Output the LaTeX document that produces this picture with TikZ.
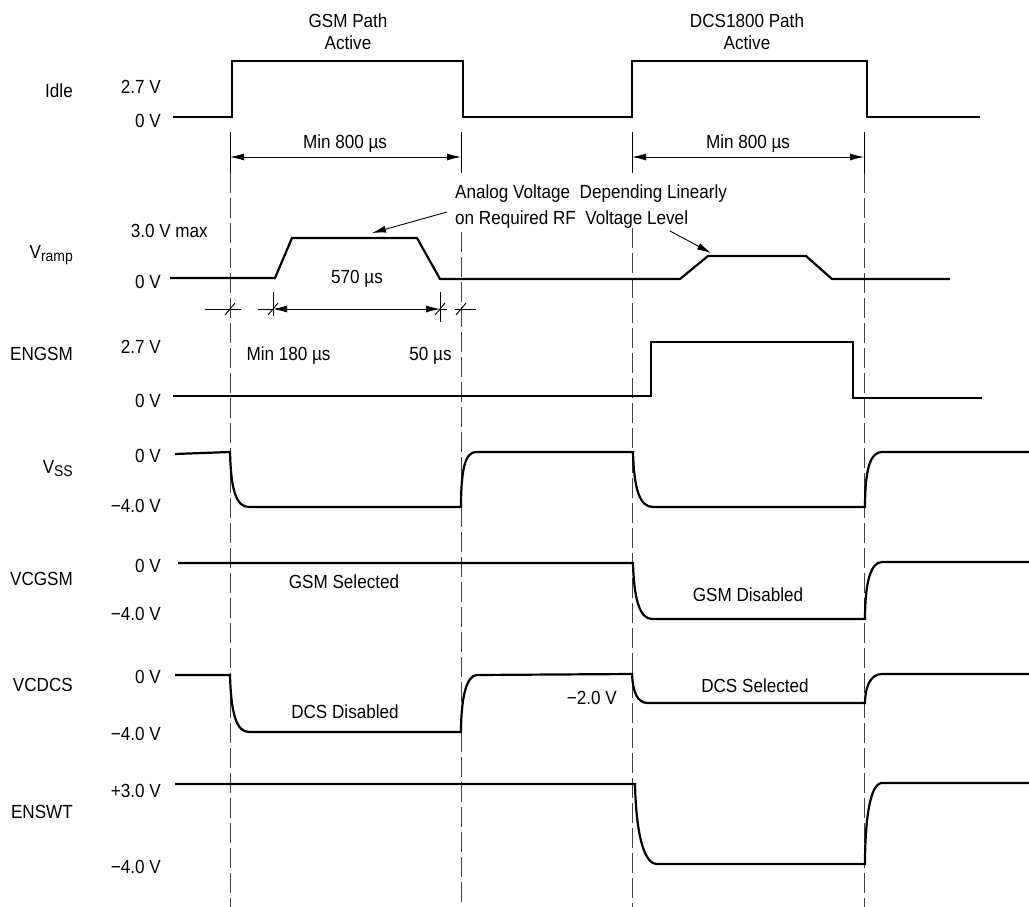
\documentclass[tikz,border=0pt]{standalone}
\usepackage{fontspec}
\setmainfont{Liberation Sans}[FakeStretch=0.9]
\usetikzlibrary{arrows.meta}
\newcommand{\subtxt}[1]{\raisebox{-0.35ex}{\fontsize{15.5}{16}\selectfont #1}}
\begin{document}
\begin{tikzpicture}[x=1pt,y=-1pt,
  sig/.style={line width=2.2pt, line join=miter},
  guide/.style={line width=0.9pt, black!75, dash pattern=on 20pt off 5pt},
  dimline/.style={line width=0.9pt},
  dimarrow/.style={line width=0.9pt, {Latex[length=14pt,width=7pt]}-{Latex[length=14pt,width=7pt]}},
  callout/.style={line width=0.9pt, -{Latex[length=14pt,width=7pt]}},
  txt/.style={font=\fontsize{19}{22}\selectfont, inner sep=0pt, anchor=base},
  lbl/.style={txt, anchor=base east},
]
\useasboundingbox[fill=white] (0,0) rectangle (1029,907);

% ---------- guide lines ----------
\foreach \gx/\gs in {230/173, 461/232, 632/228, 864/173}{
  \draw[dimline] (\gx,132) -- (\gx,173);
  \draw[guide] (\gx,\gs) -- (\gx,907);
}

% ---------- titles ----------
\node[txt] (t1a) at (348,28) {GSM Path};
\node[txt] (t1b) at (348,50) {Active};
\node[txt] (t2a) at (747,28) {DCS1800 Path};
\node[txt] (t2b) at (747,50) {Active};

% ---------- Idle ----------
\node[lbl] (lIdle) at (73,98) {Idle};
\node[lbl] (vIdleH) at (161,93) {2.7 V};
\node[lbl] (vIdleL) at (161,128) {0 V};
\draw[sig] (173,117) -- (232,117) -- (232,61) -- (463,61) -- (463,117)
  -- (632,117) -- (632,61) -- (867,61) -- (867,117) -- (980,117);

\coordinate (a1) at (230,157); \coordinate (a2) at (461,157);
\coordinate (a3) at (632,157); \coordinate (a4) at (864,157);
\draw[dimarrow] (a1) -- (a2);
\draw[dimarrow] (a3) -- (a4);
\node[txt] (m1) at (345,148) {Min 800 µs};
\node[txt] (m2) at (748,148) {Min 800 µs};

% ---------- Vramp ----------
\node[lbl] (lRamp) at (73,258) {V\subtxt{ramp}};
\node[lbl] (vRampH) at (208,237) {3.0 V max};
\node[lbl] (vRampL) at (161,288) {0 V};
\draw[sig] (170,278) -- (275,278) -- (292,238) -- (417,238) -- (440,279)
  -- (680,279) -- (708,256) -- (806,256) -- (832,279) -- (950,279);

\node[txt, anchor=base west] (an1) at (455,198.5) {Analog Voltage\ \ Depending Linearly};
\node[txt, anchor=base west] (an2) at (455,224.5) {on Required RF\ \ Voltage Level};
\coordinate (c1s) at (447,212); \coordinate (c1e) at (372,233);
\coordinate (c2s) at (670,231); \coordinate (c2e) at (711,253);
\draw[callout] (c1s) -- (c1e);
\draw[callout] (c2s) -- (c2e);

% 570 us dimension
\coordinate (d1) at (273,309); \coordinate (d2) at (440,309);
\draw[dimline] (273,292) -- (273,316);
\draw[dimline] (440,292) -- (440,322);
\draw[dimarrow] (d1) -- (d2);
\draw[dimline] (258,309) -- (273,309);
\draw[dimline] (440,309) -- (447,309);
\draw[dimline] (205,309) -- (241,309);
\draw[dimline] (455,309) -- (476,309);
\foreach \tx in {230,273,440,461}{
  \draw[dimline] (\tx-5,315) -- (\tx+5,303);
}
\node[txt] (t570) at (357,283) {570 µs};
\node[txt] (t180) at (288.5,360) {Min 180 µs};
\node[txt] (t50) at (430.5,360) {50 µs};

% ---------- ENGSM ----------
\node[lbl] (lEng) at (73,360) {ENGSM};
\node[lbl] (vEngH) at (161,353) {2.7 V};
\node[lbl] (vEngL) at (161,407) {0 V};
\draw[sig] (173,396) -- (651,396) -- (651,342) -- (853,342) -- (853,398) -- (982,398);

% ---------- VSS ----------
\node[lbl] (lVss) at (73,473) {V\subtxt{SS}};
\node[lbl] (vVssH) at (161,462) {0 V};
\node[lbl] (vVssL) at (161,512) {−4.0 V};
\draw[sig] (175,454) -- (230,452) .. controls (231,490) and (236,507) .. (249,507)
  -- (461,507) .. controls (461,470) and (465,452) .. (476,452)
  -- (633,452) .. controls (634,490) and (640,507) .. (653,507)
  -- (865,507) .. controls (865,470) and (870,452) .. (882,452) -- (1029,452);

% ---------- VCGSM ----------
\node[lbl] (lVcg) at (73,585) {VCGSM};
\node[lbl] (vVcgH) at (161,572) {0 V};
\node[lbl] (vVcgL) at (161,620) {−4.0 V};
\draw[sig] (178,563) -- (633,563) .. controls (634,600) and (640,619) .. (652,619)
  -- (865,619) .. controls (865,585) and (870,562) .. (882,562) -- (1029,562);
\node[txt] (gsel) at (344,588) {GSM Selected};
\node[txt] (gdis) at (748,601) {GSM Disabled};

% ---------- VCDCS ----------
\node[lbl] (lVcd) at (73,691) {VCDCS};
\node[lbl] (vVcdH) at (161,683) {0 V};
\node[lbl] (vVcdL) at (161,740) {−4.0 V};
\node[lbl] (vVcdM) at (617,704) {−2.0 V};
\draw[sig] (175,675) -- (230,675) .. controls (231,712) and (236,732) .. (249,732)
  -- (461,732) .. controls (461,700) and (466,675) .. (477,675)
  -- (632,674) .. controls (633,692) and (637,703) .. (648,703)
  -- (865,703) .. controls (865,690) and (869,674) .. (882,674) -- (1029,674);
\node[txt] (dsel) at (755,692) {DCS Selected};
\node[txt] (ddis) at (345,718) {DCS Disabled};

% ---------- ENSWT ----------
\node[lbl] (lEns) at (73,818) {ENSWT};
\node[lbl] (vEnsH) at (161,797) {+3.0 V};
\node[lbl] (vEnsL) at (161,873) {−4.0 V};
\draw[sig] (175,784) -- (635,784) .. controls (636,830) and (643,864) .. (657,864)
  -- (865,864) .. controls (865,820) and (870,783) .. (882,783) -- (1029,783);
\end{tikzpicture}
\end{document}
